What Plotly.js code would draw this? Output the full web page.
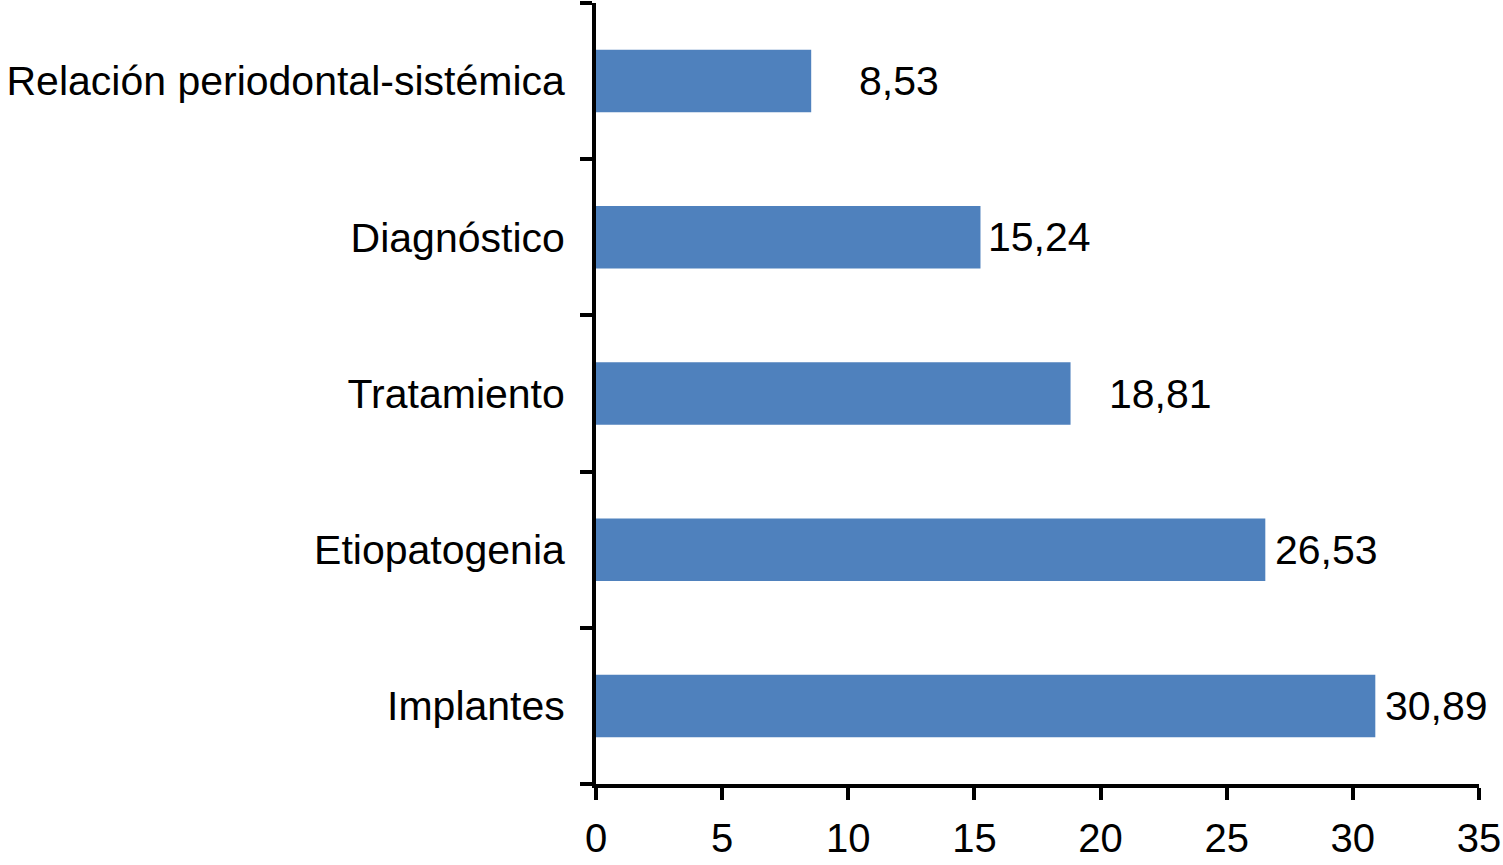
<!DOCTYPE html>
<html>
<head>
<meta charset="utf-8">
<script src="https://cdn.plot.ly/plotly-3.0.1.min.js"></script>
<style>html,body{margin:0;padding:0;background:#fff;}#chart{width:1503px;height:865px;}</style>
</head>
<body>
<div id="chart"></div>
<script>
const categories = ['Implantes', 'Etiopatogenia', 'Tratamiento', 'Diagnóstico', 'Relación periodontal-sistémica'];
const values = [30.89, 26.53, 18.81, 15.24, 8.53];
const xTicks = [0, 5, 10, 15, 20, 25, 30, 35];
const labelShift = [8, 8, 36, 6, 46];

const fmt = v => v.toFixed(2).replace('.', ',');

const trace = {
  type: 'bar',
  orientation: 'h',
  x: values,
  y: categories,
  width: 0.4,
  marker: {color: '#4F81BD'},
  hoverinfo: 'none'
};

const annotations = values.map((v, i) => ({
  x: v, y: categories[i], xref: 'x', yref: 'y',
  text: fmt(v), showarrow: false, xanchor: 'left', yanchor: 'middle',
  xshift: labelShift[i],
  font: {family: 'Liberation Sans, Arial, sans-serif', size: 41, color: '#000'}
}));

const layout = {
  width: 1503, height: 865,
  margin: {l: 596, r: 24, t: 3, b: 81, pad: 0},
  paper_bgcolor: '#fff', plot_bgcolor: '#fff',
  font: {family: 'Liberation Sans, Arial, sans-serif', size: 41, color: '#000'},
  showlegend: false,
  bargap: 0.6,
  xaxis: {
    range: [0, 35], tickvals: xTicks, ticktext: xTicks.map(String),
    showgrid: false, zeroline: false,
    showline: true, linecolor: '#000', linewidth: 4,
    ticks: 'outside', ticklen: 12, tickwidth: 4, tickcolor: '#000',
    ticklabelstandoff: 4,
    tickfont: {size: 40}, fixedrange: true
  },
  yaxis: {
    type: 'category', categoryorder: 'array', categoryarray: categories,
    showgrid: false, zeroline: false,
    showline: true, linecolor: '#000', linewidth: 4,
    ticks: 'outside', ticklen: 12, tickwidth: 4, tickcolor: '#000',
    tickson: 'boundaries', ticklabelstandoff: 19,
    tickfont: {size: 41}, fixedrange: true
  },
  annotations: annotations
};

Plotly.newPlot('chart', [trace], layout, {displayModeBar: false, staticPlot: true});
</script>
</body>
</html>
